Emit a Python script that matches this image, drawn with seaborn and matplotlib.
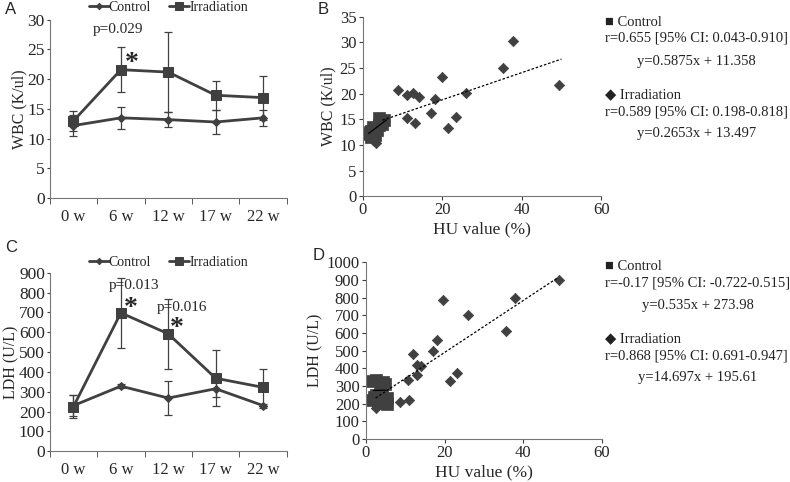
import numpy as np
import pandas as pd
import seaborn as sns
import matplotlib.pyplot as plt

# time course data (panels A and C)
weeks = ["0 w", "6 w", "12 w", "17 w", "22 w"]
wbc_control = [12.2, 13.5, 13.2, 12.8, 13.5]
wbc_control_sd = [1.7, 1.85, 1.2, 2.0, 1.35]
wbc_irr = [13.0, 21.6, 21.2, 17.3, 16.9]
wbc_irr_sd = [1.7, 3.8, 6.8, 2.4, 3.7]

ldh_control = [230, 328, 268, 315, 230]
ldh_control_sd = [55, 10, 88, 40, 10]
ldh_irr = [225, 698, 592, 368, 322]
ldh_irr_sd = [60, 178, 178, 142, 92]

# correlation data (panels B and D)
b_ctrl_hu = [1.5, 2.0, 2.5, 3.0, 4.0, 4.5, 5.0, 5.5, 3.5, 2.2, 4.2, 1.8]
b_ctrl_wbc = [12.2, 12.8, 13.5, 12.0, 15.2, 14.5, 14.0, 14.8, 13.0, 11.5, 13.8, 12.5]
b_irr_hu = [8.8, 11.1, 12.6, 14.2, 11.1, 13.2, 18.2, 17.3, 19.9, 21.6, 23.4, 25.9,
            35.4, 37.7, 49.4, 3.3, 2.5, 2.0]
b_irr_wbc = [20.8, 19.7, 20.2, 19.3, 15.2, 14.2, 18.9, 16.3, 23.2, 13.3, 15.5, 20.2,
             25.1, 30.3, 21.7, 10.3, 11.0, 11.8]

d_ctrl_hu = [1.5, 2.5, 4.5, 5.0, 3.5, 2.0, 1.5, 3.0, 5.5, 5.5, 4.0, 2.5]
d_ctrl_ldh = [330, 335, 325, 310, 300, 240, 220, 205, 200, 235, 260, 250]
d_irr_hu = [8.6, 11.0, 10.8, 11.9, 12.9, 13.1, 14.0, 17.1, 18.0, 19.7, 21.5, 23.3,
            26.0, 35.5, 37.9, 49.2, 2.7, 2.2]
d_irr_ldh = [210, 220, 336, 483, 361, 417, 412, 498, 558, 788, 329, 374,
             699, 609, 799, 900, 173, 215]

# regression lines as stated in the figure
b_ctrl_fit = (0.5875, 11.358)
b_irr_fit = (0.2653, 13.497)
d_ctrl_fit = (0.535, 273.98)
d_irr_fit = (14.697, 195.61)

dark = "#404040"
serif = "Liberation Serif"
sns.set_style("ticks")
plt.rcParams["font.family"] = [serif, "DejaVu Serif"]

fig = plt.figure(figsize=(7.9, 4.82), dpi=100)
axA = fig.add_axes([0.063, 0.589, 0.300, 0.370])
axB = fig.add_axes([0.459, 0.593, 0.302, 0.372])
axC = fig.add_axes([0.063, 0.064, 0.300, 0.370])
axD = fig.add_axes([0.463, 0.089, 0.299, 0.367])


def time_panel(ax, ctrl, ctrl_sd, irr, irr_sd, ylim, step, ylabel, leg_y):
    df = pd.DataFrame({"week": weeks, "ctrl": ctrl, "irr": irr})
    pos = np.arange(len(weeks))
    ax.errorbar(pos, ctrl, yerr=ctrl_sd, fmt="none", ecolor=dark, elinewidth=0.9,
                capsize=3, capthick=0.9, zorder=1)
    ax.errorbar(pos, irr, yerr=irr_sd, fmt="none", ecolor=dark, elinewidth=0.9,
                capsize=3, capthick=0.9, zorder=1)
    sns.lineplot(data=df, x="week", y="ctrl", ax=ax, color=dark, marker="D",
                 markersize=4, markeredgecolor=dark, linewidth=2, label="Control", sort=False)
    sns.lineplot(data=df, x="week", y="irr", ax=ax, color=dark, marker="s",
                 markersize=7, markeredgecolor=dark, linewidth=2, label="Irradiation", sort=False)
    ax.set_xlim(-0.5, len(weeks) - 0.5)
    ax.set_ylim(*ylim)
    ax.set_yticks(np.arange(ylim[0], ylim[1] + step / 2, step))
    ax.set_xticks(pos)
    ax.set_xticklabels(weeks, fontsize=12)
    ax.tick_params(axis="x", which="major", length=0, pad=8)
    ax.set_xticks(np.arange(-0.5, len(weeks)), minor=True)
    ax.tick_params(axis="x", which="minor", length=4, color=dark)
    ax.tick_params(axis="y", labelsize=12.5, length=2.5, color=dark, pad=1)
    ax.set_xlabel("")
    ax.set_ylabel(ylabel, fontsize=11.5, labelpad=0)
    for s in ["left", "bottom"]:
        ax.spines[s].set_color("#777777")
    sns.despine(ax=ax)
    ax.legend(loc="center", bbox_to_anchor=(0.5, leg_y), ncol=2, frameon=False,
              fontsize=10, handlelength=1.45, handletextpad=0.0, columnspacing=1.3,
              borderpad=0.0, markerscale=0.8)


def corr_panel(ax, chu, cval, ihu, ival, cfit, ifit, cspan, ispan, ylim, step, ylabel):
    ctrl_df = pd.DataFrame({"hu": chu, "val": cval})
    irr_df = pd.DataFrame({"hu": ihu, "val": ival})
    sns.scatterplot(data=irr_df, x="hu", y="val", ax=ax, marker="D", s=28,
                    color=dark, edgecolor=dark, linewidth=0.5, zorder=2)
    sns.scatterplot(data=ctrl_df, x="hu", y="val", ax=ax, marker="s", s=70,
                    color=dark, edgecolor=dark, linewidth=0.5, zorder=2)
    xs = np.array(ispan)
    ax.plot(xs, ifit[0] * xs + ifit[1], color="black", linestyle=(0, (2, 1.5)),
            linewidth=0.9, zorder=3)
    xs = np.array(cspan)
    ax.plot(xs, cfit[0] * xs + cfit[1], color="black", linewidth=0.9, zorder=3)
    ax.set_xlim(0, 60)
    ax.set_ylim(*ylim)
    ax.set_xticks([0, 20, 40, 60])
    ax.set_yticks(np.arange(ylim[0], ylim[1] + step / 2, step))
    ax.tick_params(axis="both", labelsize=12, length=3, color=dark, pad=1.5)
    ax.set_xlabel("HU value (%)", fontsize=12.5, labelpad=2)
    ax.set_ylabel(ylabel, fontsize=11.5, labelpad=2)
    for s in ["left", "bottom"]:
        ax.spines[s].set_color("#777777")
    sns.despine(ax=ax)


time_panel(axA, wbc_control, wbc_control_sd, wbc_irr, wbc_irr_sd, (0, 30), 5,
           "WBC (K/ul)", 1.067)
time_panel(axC, ldh_control, ldh_control_sd, ldh_irr, ldh_irr_sd, (0, 900), 100,
           "LDH (U/L)", 1.056)
corr_panel(axB, b_ctrl_hu, b_ctrl_wbc, b_irr_hu, b_irr_wbc, b_ctrl_fit, b_irr_fit,
           (1.5, 6.0), (5.0, 50.0), (0, 35), 5, "WBC (K/ul)")
corr_panel(axD, d_ctrl_hu, d_ctrl_ldh, d_irr_hu, d_irr_ldh, d_ctrl_fit, d_irr_fit,
           (2.0, 5.0), (2.5, 48.7), (0, 1000), 100, "LDH (U/L)")

# significance marks
axA.text(0.95, 28.3, "p=0.029", ha="center", va="center", fontsize=11)
axA.text(1.23, 22.6, "*", ha="center", va="center", fontsize=20, fontweight="bold")
axC.text(1.28, 835, "p=0.013", ha="center", va="center", fontsize=11)
axC.text(1.2, 720, "*", ha="center", va="center", fontsize=20, fontweight="bold")
axC.text(2.3, 725, "p=0.016", ha="center", va="center", fontsize=11)
axC.text(2.19, 620, "*", ha="center", va="center", fontsize=20, fontweight="bold")

# statistics text
stats_B = [("\u25a0 Control", 605, 22), ("r=0.655 [95% CI: 0.043-0.910]", 605, 38),
           ("y=0.5875x + 11.358", 637, 61), ("\u25c6 Irradiation", 605, 95),
           ("r=0.589 [95% CI: 0.198-0.818]", 605, 112), ("y=0.2653x + 13.497", 637, 133)]
stats_D = [("\u25a0 Control", 605, 266), ("r=-0.17 [95% CI: -0.722-0.515]", 605, 283),
           ("y=0.535x + 273.98", 642, 305), ("\u25c6 Irradiation", 605, 339),
           ("r=0.868 [95% CI: 0.691-0.947]", 605, 356), ("y=14.697x + 195.61", 638, 377)]
for txt, px, py in stats_B + stats_D:
    fig.text(px / 790, 1 - py / 482, txt, ha="left", va="center", fontsize=10.5,
             color="#222222", family=[serif, "DejaVu Sans"])

# panel letters
for lab, px, py in [("A", 5, 9), ("B", 318, 9), ("C", 5, 248), ("D", 313, 256)]:
    fig.text(px / 790, 1 - py / 482, lab, ha="left", va="center", fontsize=12,
             family="Liberation Sans")

fig.savefig("out.png", dpi=100)
